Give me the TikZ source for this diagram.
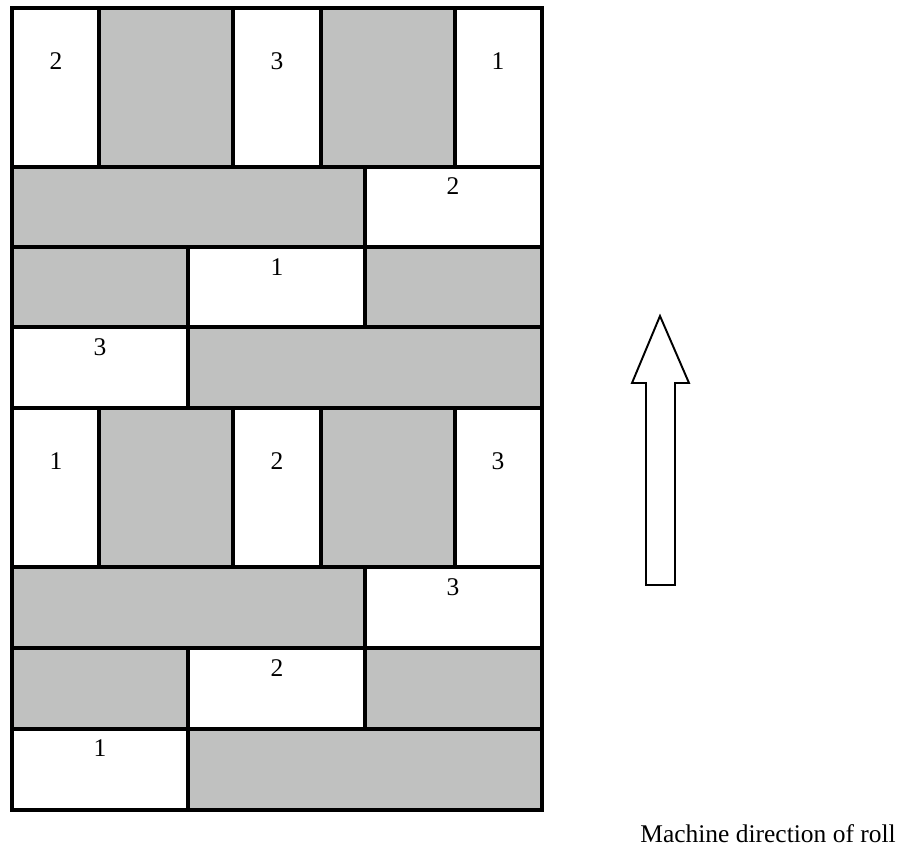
\documentclass[tikz,border=0pt]{standalone}
\usepackage{fontspec}
\setmainfont{Liberation Serif}
\definecolor{stripgray}{RGB}{192,193,192}

\begin{document}
\begin{tikzpicture}[x=0.02cm, y=-0.02cm,
    used/.style={fill=stripgray},
    cut/.style={line width=2.3pt},
    lbl/.style={font=\fontsize{14.5}{17}\selectfont, inner sep=0pt}]
    \useasboundingbox (0,0) rectangle (904,848);

    % gray pieces
    \fill[used] (99,8) rectangle (233,167);
    \fill[used] (321,8) rectangle (455,167);
    \fill[used] (12,167) rectangle (365,247);
    \fill[used] (12,247) rectangle (188,327);
    \fill[used] (365,247) rectangle (542,327);
    \fill[used] (188,327) rectangle (542,408);
    \fill[used] (99,408) rectangle (233,567);
    \fill[used] (321,408) rectangle (455,567);
    \fill[used] (12,567) rectangle (365,648);
    \fill[used] (12,648) rectangle (188,729);
    \fill[used] (365,648) rectangle (542,729);
    \fill[used] (188,729) rectangle (542,810);

    % cut lines
    \draw[cut] (12,8) rectangle (542,810);
    \draw[cut] (12,167) -- (542,167);
    \draw[cut] (12,247) -- (542,247);
    \draw[cut] (12,327) -- (542,327);
    \draw[cut] (12,408) -- (542,408);
    \draw[cut] (12,567) -- (542,567);
    \draw[cut] (12,648) -- (542,648);
    \draw[cut] (12,729) -- (542,729);

    \draw[cut] (99,8) -- (99,167) (233,8) -- (233,167) (321,8) -- (321,167) (455,8) -- (455,167);
    \draw[cut] (365,167) -- (365,247);
    \draw[cut] (188,247) -- (188,327) (365,247) -- (365,327);
    \draw[cut] (188,327) -- (188,408);
    \draw[cut] (99,408) -- (99,567) (233,408) -- (233,567) (321,408) -- (321,567) (455,408) -- (455,567);
    \draw[cut] (365,567) -- (365,648);
    \draw[cut] (188,648) -- (188,729) (365,648) -- (365,729);
    \draw[cut] (188,729) -- (188,810);

    % lane numbers
    \node[lbl] (topa) at (56,61) {2};
    \node[lbl] (topb) at (277,61) {3};
    \node[lbl] (topc) at (498,61) {1};
    \node[lbl] (rowb) at (453,186) {2};
    \node[lbl] (rowc) at (277,267) {1};
    \node[lbl] (rowd) at (100,347) {3};
    \node[lbl] (mida) at (56,461) {1};
    \node[lbl] (midb) at (277,461) {2};
    \node[lbl] (midc) at (498,461) {3};
    \node[lbl] (rowf) at (453,587) {3};
    \node[lbl] (rowg) at (277,668) {2};
    \node[lbl] (rowh) at (100,748) {1};

    % direction arrow
    \draw[line width=1.1pt] (660,316) -- (689,383) -- (675,383) -- (675,585)
        -- (646,585) -- (646,383) -- (632,383) -- cycle;
    \node[lbl, anchor=base west] (caption) at (640,842) {Machine direction of roll};
\end{tikzpicture}
\end{document}
